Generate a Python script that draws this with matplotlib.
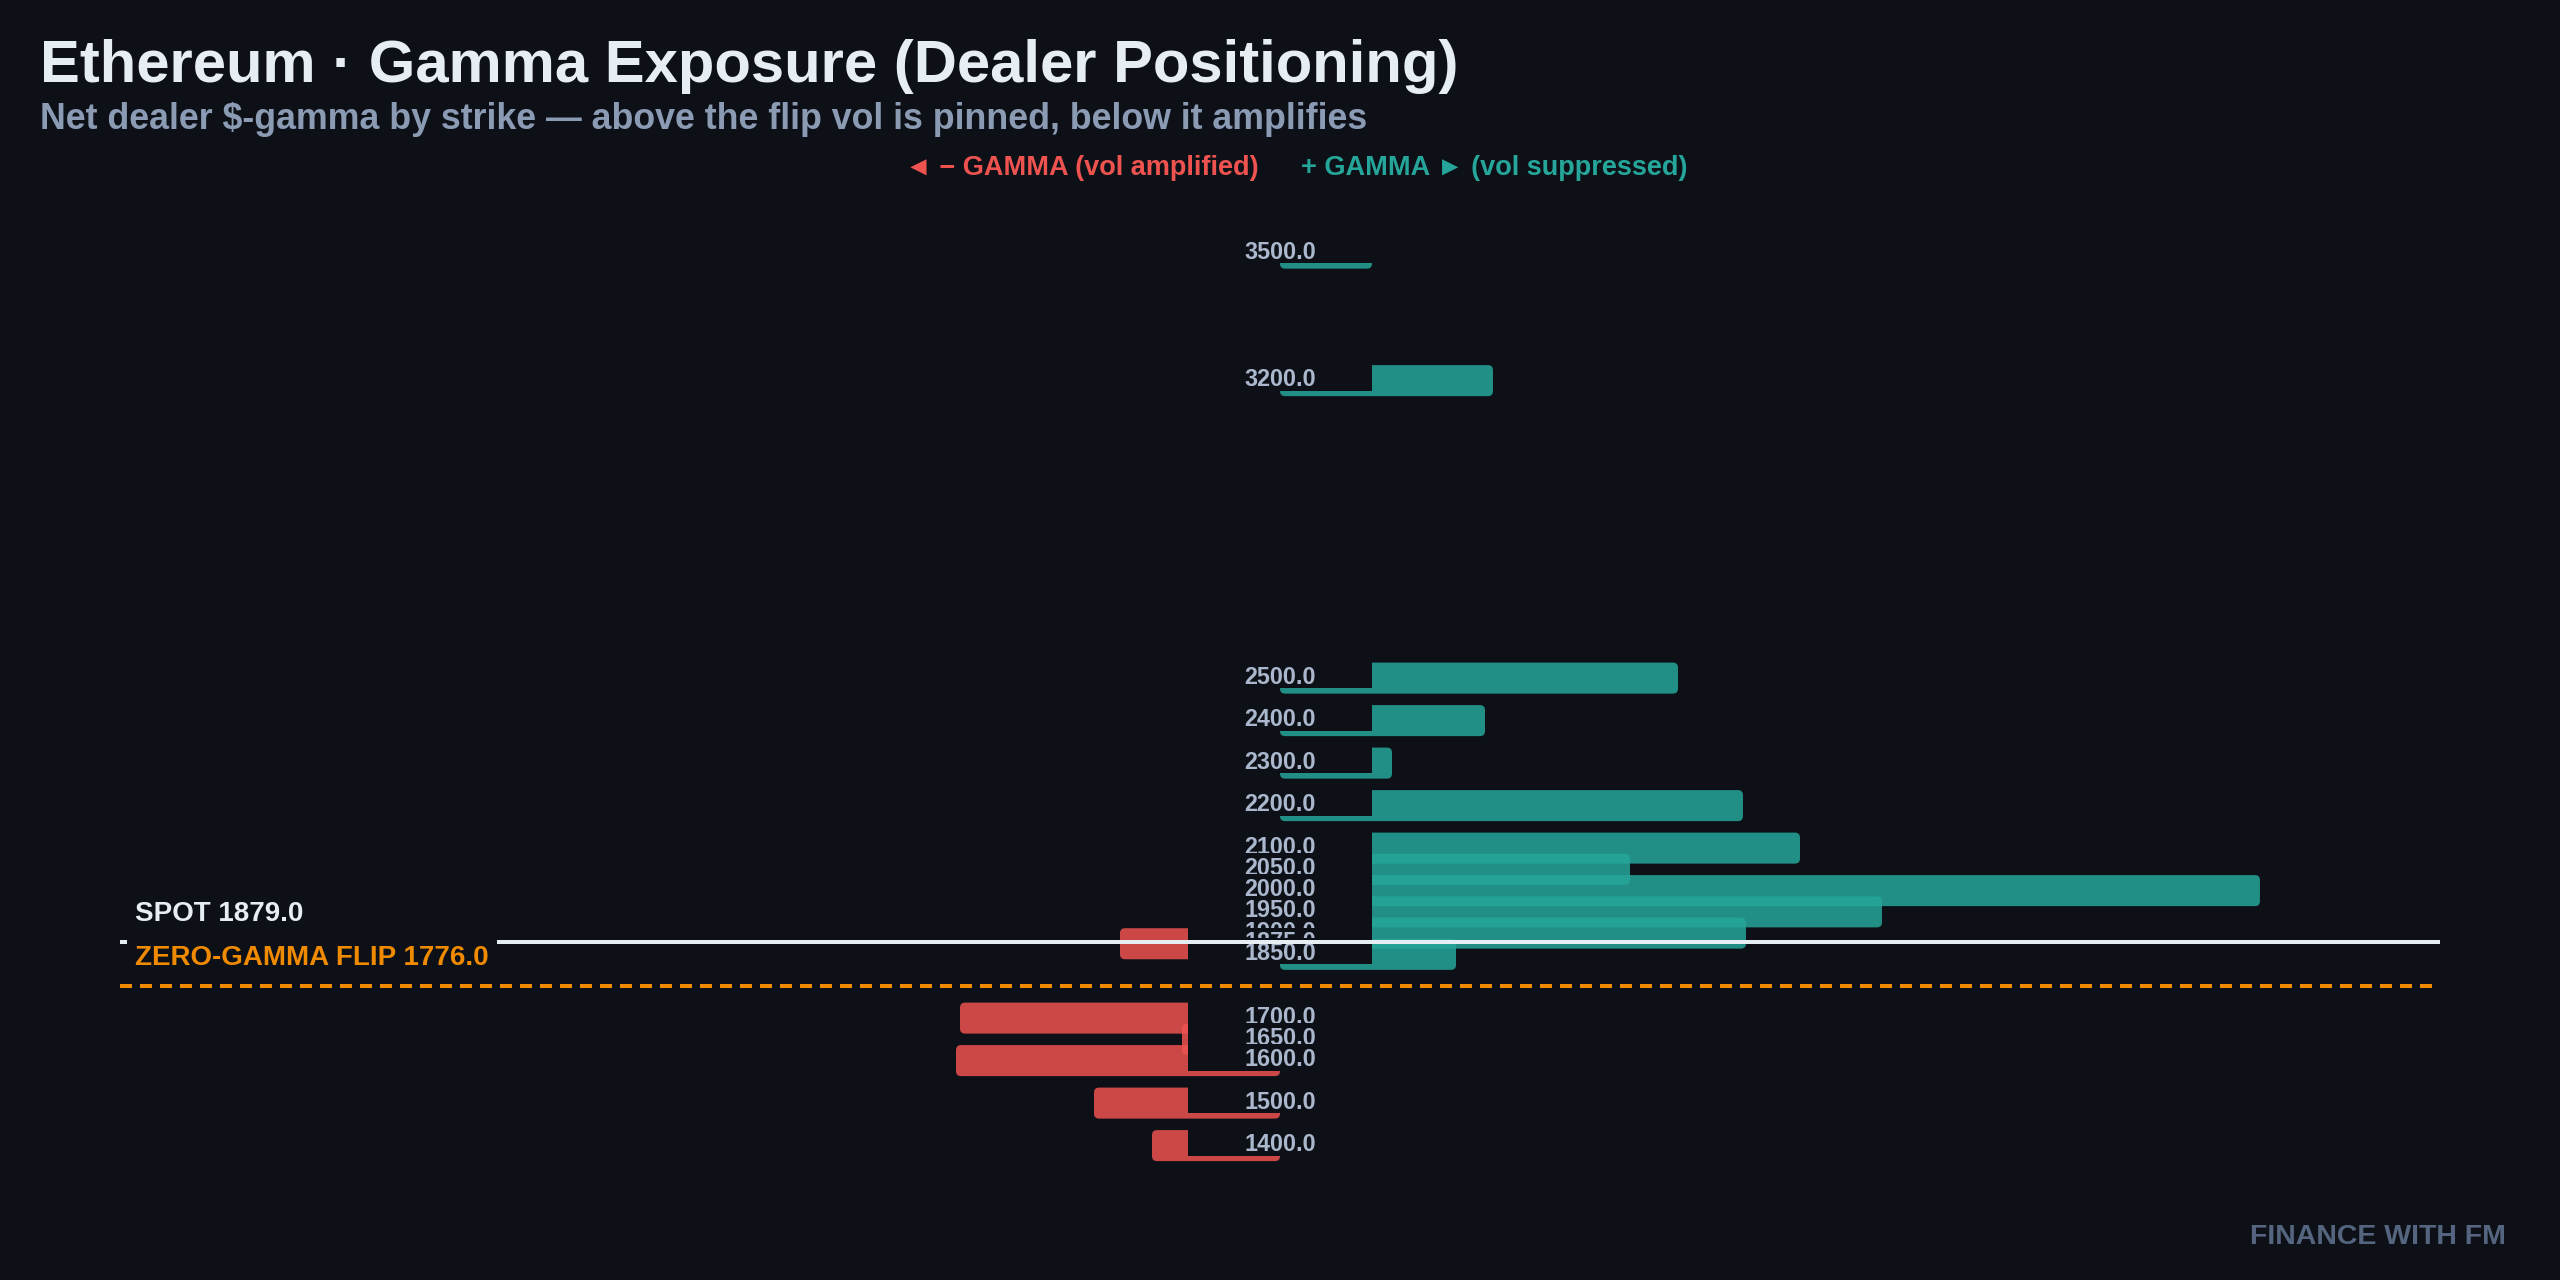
import matplotlib.pyplot as plt
from matplotlib.patches import FancyBboxPatch, Rectangle
from matplotlib.transforms import blended_transform_factory

plt.rcParams['font.family'] = ['Liberation Sans', 'DejaVu Sans']
plt.rcParams['font.weight'] = 'bold'

# net dealer $-gamma per strike ($M), strikes listed top to bottom
strikes = [3500, 3200, 2500, 2400, 2300, 2200, 2100, 2050, 2000, 1950,
           1900, 1875, 1850, 1700, 1650, 1600, 1500, 1400]
net_gex = [4.6, 10.65, 19.9, 10.25, 5.6, 23.15, 26.0, 17.5, 49.0, 30.1,
           23.3, -8.0, 8.8, -16.0, -4.9, -16.2, -9.3, -6.4]
spot = 1879.0
flip = 1776.0

BG = '#0d1117'
POS = '#26a69a'
NEG = '#ef5350'
ORANGE = '#f08a00'
WHITE = '#e6edf3'
MUTED = '#8b9bb4'
LABEL = '#aab7cc'

fig = plt.figure(figsize=(16, 8), dpi=160, facecolor=BG)
ax = fig.add_axes([0.0469, 0.0625, 0.9062, 0.78125])
ax.set_facecolor(BG)
ax.set_xlim(-58, 58)
ax.set_ylim(1272, 3625)
ax.axis('off')

# keep the corner rounding circular on this stretched axes
p0 = ax.transData.transform((0, 0))
p1 = ax.transData.transform((1, 1))
aspect = (p1[0] - p0[0]) / (p1[1] - p0[1])
rnd = 5 / (p1[0] - p0[0])

bar_h = 73
gutter = 4.6   # half width of the label box in the middle
strip = 13     # bit of bar left showing under the label box

for i, (k, v) in enumerate(zip(strikes, net_gex)):
    z = 3 + 3 * i
    col = POS if v >= 0 else NEG
    bar = FancyBboxPatch((min(0, v), k - bar_h / 2), abs(v), bar_h,
                         boxstyle=f'round,pad=0,rounding_size={rnd}',
                         mutation_aspect=aspect, fc=col, ec='none',
                         alpha=0.85, zorder=z)
    ax.add_patch(bar)
    # label box hides the bar, a hair taller on top to eat the edge
    ax.add_patch(Rectangle((-gutter, k - bar_h / 2 + strip), 2 * gutter,
                           bar_h - strip + 1.5, fc=BG, ec='none', zorder=z + 1))
    ax.text(0, k + 2.5, f'{float(k):.1f}', ha='center', va='center',
            color=LABEL, fontsize=10.5, zorder=z + 2)

ax.axhline(spot, color=WHITE, lw=1.8, zorder=100)
ax.axhline(flip, color=ORANGE, lw=1.8, ls=(0, (3, 2)), zorder=100)

tr = blended_transform_factory(ax.transAxes, ax.transData)
ax.annotate(f'SPOT {spot:.1f}', xy=(0.0065, spot), xycoords=tr,
            xytext=(0, 12.5), textcoords='offset points',
            ha='left', va='center', color=WHITE, fontsize=12.5, zorder=110)
ax.annotate(f'ZERO-GAMMA FLIP {flip:.1f}', xy=(0.0065, flip), xycoords=tr,
            xytext=(0, 12.5), textcoords='offset points',
            ha='left', va='center', color=ORANGE, fontsize=12.5, zorder=110,
            bbox=dict(boxstyle='square,pad=0.3', fc=BG, ec='none'))

fig.text(0.0156, 1 - 82 / 1280, 'Ethereum · Gamma Exposure (Dealer Positioning)',
         ha='left', va='baseline', color=WHITE, fontsize=26.9)
fig.text(0.0156, 1 - 129 / 1280,
         'Net dealer $-gamma by strike — above the flip vol is pinned, below it amplifies',
         ha='left', va='baseline', color=MUTED, fontsize=16.1)

fig.text(0.4918, 1 - 168 / 1280, '◄ − GAMMA (vol amplified)',
         ha='right', va='center', color=NEG, fontsize=12.2)
fig.text(0.5082, 1 - 168 / 1280, '+ GAMMA ► (vol suppressed)',
         ha='left', va='center', color=POS, fontsize=12.2)

fig.text(0.979, 1 - 1237 / 1280, 'FINANCE WITH FM', ha='right', va='center',
         color='#56657f', fontsize=12.8)

fig.savefig('out.png', dpi=160, facecolor=BG)
